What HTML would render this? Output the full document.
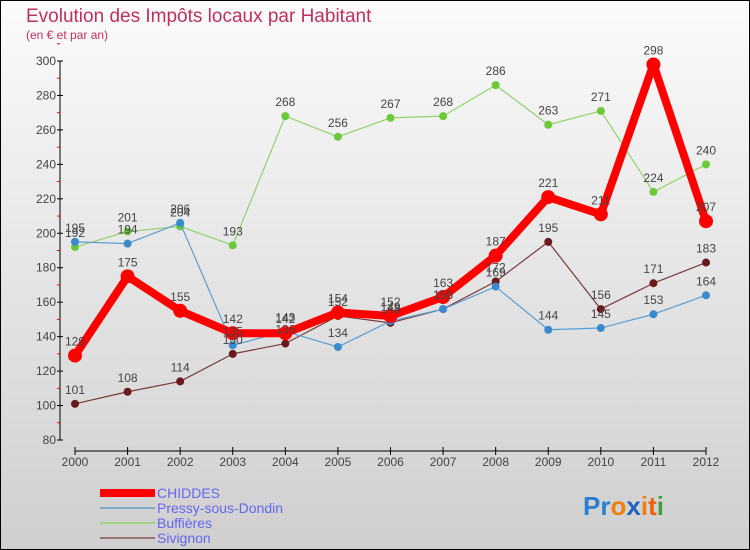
<!DOCTYPE html>
<html><head><meta charset="utf-8"><style>
body{margin:0;width:750px;height:550px;overflow:hidden;font-family:"Liberation Sans",sans-serif}
svg{display:block}
</style></head><body>
<svg id="c" width="750" height="550">
<defs><linearGradient id="bg" x1="0" y1="0" x2="0" y2="1"><stop offset="0" stop-color="#fbfbfb"/><stop offset="1" stop-color="#cfcfcf"/></linearGradient></defs>
<rect x="0.5" y="0.5" width="749" height="549" fill="url(#bg)" stroke="#000"/>
<text x="26" y="22" font-size="19" fill="#c0305f">Evolution des Impôts locaux par Habitant</text>
<text x="26" y="39" font-size="12" fill="#c0305f">(en € et par an)</text>
<g id="axes"></g><g id="series"></g><g id="labels"></g>
<g>
<rect x="100" y="489" width="55" height="8" fill="#f00"/>
<text x="157" y="498" font-size="14" fill="#6666ee">CHIDDES</text>
<rect x="100" y="507" width="55" height="2" fill="#7fa6c6"/>
<text x="157" y="513" font-size="14" fill="#6666ee">Pressy-sous-Dondin</text>
<rect x="100" y="522" width="55" height="2" fill="#9ed483"/>
<text x="157" y="528" font-size="14" fill="#6666ee">Buffières</text>
<rect x="100" y="537" width="55" height="2" fill="#9a7474"/>
<text x="157" y="543" font-size="14" fill="#6666ee">Sivignon</text>
</g>
<text x="583" y="515" font-size="26" font-weight="bold"><tspan fill="#2a7fd0">Pr</tspan><tspan fill="#f07f10">o</tspan><tspan fill="#2060c0">x</tspan><tspan fill="#f07f10">i</tspan><tspan fill="#ee6010">t</tspan><tspan fill="#40a040">i</tspan></text>
</svg>
<script>
const years=[2000,2001,2002,2003,2004,2005,2006,2007,2008,2009,2010,2011,2012];
const yTicks=[80,100,120,140,160,180,200,220,240,260,280,300];
const chiddes=[129,175,155,142,142,154,152,163,187,221,211,298,207];
const pressy=[195,194,206,135,143,134,149,156,169,144,145,153,164];
const buffieres=[192,201,204,193,268,256,267,268,286,263,271,224,240];
const sivignon=[101,108,114,130,136,152,148,156,172,195,156,171,183];
const NS="http://www.w3.org/2000/svg";
const X=i=>75+i*(706-75)/12;
const Y=v=>440-(v-80)*(440-61)/220;
function mk(t,a,p){const e=document.createElementNS(NS,t);for(const k in a)e.setAttribute(k,a[k]);p.appendChild(e);return e;}
const ax=document.getElementById('axes'),se=document.getElementById('series'),lb=document.getElementById('labels');
const yl=mk('line',{x1:60,y1:61,x2:60,y2:440,stroke:'#000'},ax);


yTicks.forEach(v=>{
 mk('line',{x1:57,x2:63,y1:Y(v),y2:Y(v),stroke:'#000'},ax);
 mk('line',{x1:57,x2:60,y1:Y(v+10),y2:Y(v+10),stroke:'#f00'},ax);
 const t=mk('text',{x:56,y:Y(v)+4,'font-size':12,fill:'#444','text-anchor':'end'},ax);t.textContent=v;
 
 
});
const xl=mk('line',{x1:75,y1:451,x2:706,y2:451,stroke:'#000'},ax);


years.forEach((y,i)=>{
 mk('line',{x1:X(i),x2:X(i),y1:447,y2:455,stroke:'#000'},ax);
 const t=mk('text',{x:X(i),y:466,'font-size':12,fill:'#444','text-anchor':'middle'},ax);t.textContent=y;
 
 
});
function series(name,data,color,dot,w,r){
 const g=mk('g',{},se);
 
 
 mk('polyline',{points:data.map((v,i)=>X(i)+','+Y(v)).join(' '),fill:'none',stroke:color,'stroke-width':w,'stroke-linejoin':'round'},g);
 data.forEach((v,i)=>{
  const c=mk('circle',{cx:X(i),cy:Y(v),r:r,fill:dot},g);
  
  
  const t=mk('text',{x:X(i),y:Y(v)-10,'font-size':12,fill:'#444','text-anchor':'middle'},lb);t.textContent=v;
  
  
 });
}
series('sivignon',sivignon,'#7a3a3a','#6a1a1a',1.2,4);
series('buffieres',buffieres,'#8fd46a','#6cc93a',1.2,4);
series('pressy',pressy,'#5a9ed6','#3a8ad0',1.2,4);
series('chiddes',chiddes,'#f00','#f00',8,7);
</script>
</body></html>
